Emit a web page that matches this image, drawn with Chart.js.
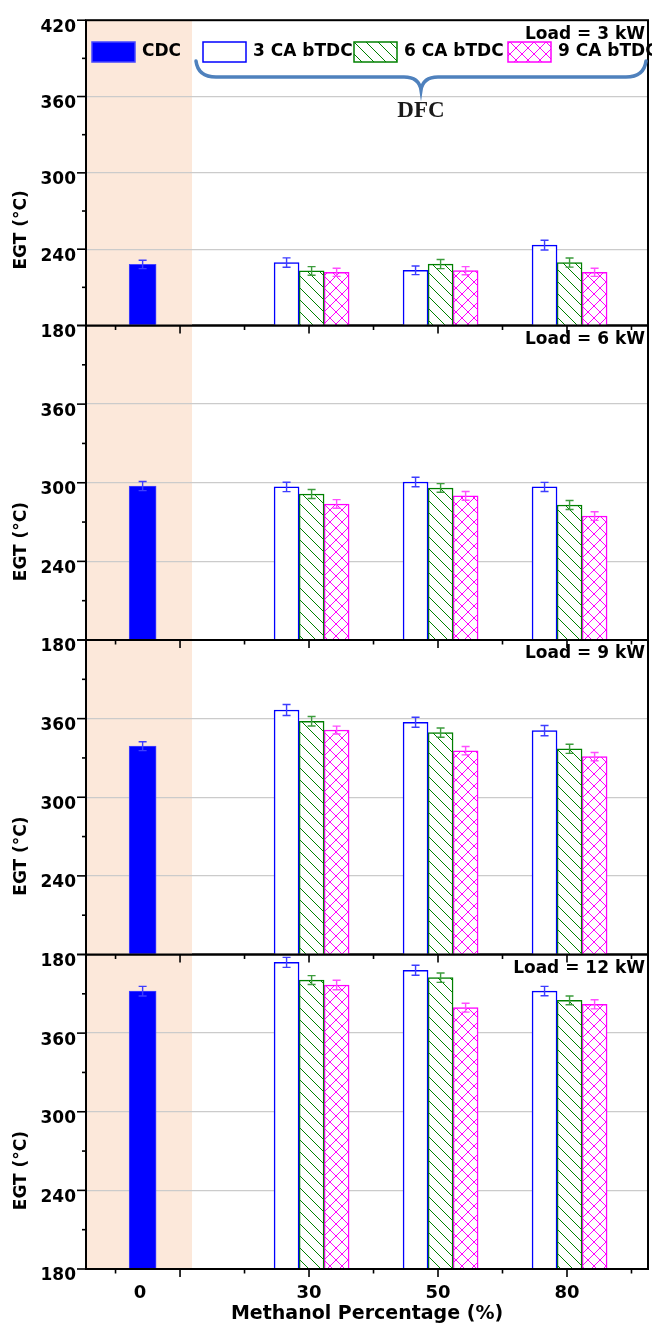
<!DOCTYPE html>
<html><head><meta charset="utf-8">
<script src="https://cdn.jsdelivr.net/npm/chart.js@4.4.0/dist/chart.umd.min.js"></script>
<style>
html,body{margin:0;padding:0;background:#fff;}
#wrap{position:relative;width:652px;height:1326px;overflow:hidden;}
#wrap canvas{position:absolute;left:0;top:0;}
</style></head><body><div id="wrap"></div>
<script>
// ---------------- data ----------------
const categories = ['0', '30', '50', '80'];           // methanol percentage
const seriesNames = ['CDC', '3 CA bTDC', '6 CA bTDC', '9 CA bTDC'];
const loadLabels = ['Load = 3 kW', 'Load = 6 kW', 'Load = 9 kW', 'Load = 12 kW'];
const yTickValues = [180, 240, 300, 360, 420];

// CDC (0 % methanol) for loads 3, 6, 9, 12 kW
const cdcEGT = [228.0, 297.5, 339.0, 392.0];
const cdcErr = [3.3, 3.5, 3.4, 3.7];

// DFC, values at 30 / 50 / 80 % methanol
const ca3_3kW = [229.5, 223.4, 243.2];
const ca6_3kW = [222.9, 228.3, 229.5];
const ca9_3kW = [221.8, 223.1, 221.8];
const ca3_6kW = [296.8, 300.6, 296.8];
const ca6_6kW = [291.4, 296.0, 283.0];
const ca9_6kW = [283.8, 290.0, 274.6];
const ca3_9kW = [366.6, 357.2, 350.8];
const ca6_9kW = [358.0, 349.3, 337.0];
const ca9_9kW = [351.3, 335.5, 331.0];
const ca3_12kW = [414.0, 408.0, 392.1];
const ca6_12kW = [400.5, 402.3, 385.0];
const ca9_12kW = [396.7, 379.4, 382.0];

const err3_3kW = [3.7, 3.4, 3.8];
const err6_3kW = [3.4, 3.6, 3.6];
const err9_3kW = [3.2, 3.2, 3.2];
const err3_6kW = [3.6, 3.6, 3.5];
const err6_6kW = [3.4, 3.3, 3.4];
const err9_6kW = [3.3, 3.3, 3.3];
const err3_9kW = [4.2, 3.8, 3.9];
const err6_9kW = [3.6, 3.5, 3.5];
const err9_9kW = [3.0, 3.2, 3.2];
const err3_12kW = [3.8, 3.8, 3.6];
const err6_12kW = [3.4, 3.6, 3.3];
const err9_12kW = [3.6, 3.4, 3.5];

// ---------------- layout / style ----------------
const W = 652, H = 1326;
const plotLeft = 86, plotRight = 648;
const panelTops = [11, 325.5, 640, 954.5];
const panelBottoms = [325.5, 640, 954.5, 1269];
const xMin = -0.729, xMax = 3.628;            // x units: one major tick step
const catPos = [-0.29, 1.02, 2.02, 3.02];     // group centre of each category
const seriesOffset = [-0.194, 0, 0.194];      // offset of the 3 DFC bars in a group
const xLabelPos = [-0.31, 1, 2, 3];
const shadeEnd = 0.093;
const FONT = '"DejaVu Sans", sans-serif';
Chart.defaults.font.family = FONT;
Chart.defaults.color = '#000';

const BLUE = '#0000ff', GREEN = '#008000', MAG = '#ff00ff';
const errColors = ['#3d3dff', '#3c9c3c', '#ff4cff'];

function makePattern(ctx, color, cross) {
  const t = document.createElement('canvas');
  t.width = 12; t.height = 12;
  const g = t.getContext('2d');
  g.fillStyle = '#fff'; g.fillRect(0, 0, 12, 12);
  g.strokeStyle = color; g.lineWidth = 1;
  for (const k of [-12, 0, 12]) {
    g.beginPath(); g.moveTo(0, k); g.lineTo(12, 12 + k); g.stroke();
    if (cross) { g.beginPath(); g.moveTo(0, 12 + k); g.lineTo(12, k); g.stroke(); }
  }
  return ctx.createPattern(t, 'repeat');
}

const panelSeries = [
  [[ca3_3kW, err3_3kW], [ca6_3kW, err6_3kW], [ca9_3kW, err9_3kW]],
  [[ca3_6kW, err3_6kW], [ca6_6kW, err6_6kW], [ca9_6kW, err9_6kW]],
  [[ca3_9kW, err3_9kW], [ca6_9kW, err6_9kW], [ca9_9kW, err9_9kW]],
  [[ca3_12kW, err3_12kW], [ca6_12kW, err6_12kW], [ca9_12kW, err9_12kW]]
];

const wrap = document.getElementById('wrap');

for (let p = 0; p < 4; p++) {
  const cv = document.createElement('canvas');
  cv.width = W; cv.height = H;
  cv.style.zIndex = String(10 - p);
  wrap.appendChild(cv);
  const ctx = cv.getContext('2d');
  const greenHatch = makePattern(ctx, GREEN, false);
  const magHatch = makePattern(ctx, MAG, true);
  const fills = ['#ffffff', greenHatch, magHatch];
  const borders = [BLUE, GREEN, MAG];

  const datasets = [{
    label: seriesNames[0],
    data: [{x: catPos[0], y: cdcEGT[p]}],
    errs: [cdcErr[p]],
    errColor: errColors[0],
    backgroundColor: BLUE, borderColor: '#4545ff', borderWidth: 1,
    barThickness: 27
  }];
  panelSeries[p].forEach((s, k) => {
    datasets.push({
      label: seriesNames[k + 1],
      data: s[0].map((v, j) => ({x: catPos[j + 1] + seriesOffset[k], y: v})),
      errs: s[1],
      errColor: errColors[k],
      backgroundColor: fills[k], borderColor: borders[k], borderWidth: 1.5,
      barThickness: 25
    });
  });

  const isLast = p === 3;
  const xAxisH = isLast ? (H - panelBottoms[3]) : 10;

  const decor = {
    id: 'decor' + p,
    beforeDraw(chart) {
      const {ctx, chartArea: a, scales: {x}} = chart;
      ctx.save();
      ctx.fillStyle = '#fce8da';
      ctx.fillRect(a.left, a.top, x.getPixelForValue(shadeEnd) - a.left, a.bottom - a.top);
      ctx.restore();
    },
    afterDatasetsDraw(chart) {
      const {ctx, chartArea: a, scales: {x, y}} = chart;
      ctx.save();
      // error bars
      chart.data.datasets.forEach(ds => {
        ctx.strokeStyle = ds.errColor; ctx.lineWidth = 1.4;
        ds.data.forEach((pt, j) => {
          const px = x.getPixelForValue(pt.x);
          const y1 = y.getPixelForValue(pt.y + ds.errs[j]);
          const y2 = y.getPixelForValue(pt.y - ds.errs[j]);
          ctx.beginPath();
          ctx.moveTo(px, y1); ctx.lineTo(px, y2);
          ctx.moveTo(px - 4, y1); ctx.lineTo(px + 4, y1);
          ctx.moveTo(px - 4, y2); ctx.lineTo(px + 4, y2);
          ctx.stroke();
        });
      });
      // frame
      ctx.strokeStyle = '#000'; ctx.lineWidth = 2;
      ctx.strokeRect(a.left, a.top, a.right - a.left, a.bottom - a.top);
      // x tick marks (outward)
      ctx.lineWidth = 1.6;
      for (let v = -0.5; v <= 3.5; v += 0.5) {
        const px = x.getPixelForValue(v);
        const len = Number.isInteger(v) ? 8 : 4.5;
        ctx.beginPath(); ctx.moveTo(px, a.bottom); ctx.lineTo(px, a.bottom + len); ctx.stroke();
      }
      // y tick marks (outward)
      for (let v = 180; v <= 420; v += 30) {
        const py = y.getPixelForValue(v);
        const len = (v % 60 === 0) ? 9 : 4;
        ctx.beginPath(); ctx.moveTo(a.left, py); ctx.lineTo(a.left - len, py); ctx.stroke();
      }
      // load annotation
      ctx.fillStyle = '#000';
      ctx.font = 'bold 17px ' + FONT;
      ctx.textAlign = 'right'; ctx.textBaseline = 'middle';
      ctx.fillText(loadLabels[p], a.right - 3, a.top + 14);
      // y title
      ctx.save();
      ctx.translate(22, a.top + 0.687 * (a.bottom - a.top));
      ctx.rotate(-Math.PI / 2);
      ctx.textAlign = 'center';
      ctx.fillText('EGT (°C)', 0, 0);
      ctx.restore();

      if (p === 0) {
        // legend
        const boxX = [92, 203, 354, 508];
        chart.data.datasets.forEach((ds, k) => {
          ctx.fillStyle = ds.backgroundColor;
          ctx.fillRect(boxX[k], 42, 43, 20);
          ctx.strokeStyle = ds.borderColor;
          ctx.lineWidth = 1.5;
          ctx.strokeRect(boxX[k], 42, 43, 20);
          ctx.fillStyle = '#000';
          ctx.textAlign = 'left';
          ctx.fillText(ds.label, boxX[k] + 50, 52);
        });
        // brace
        ctx.strokeStyle = '#4f81bd'; ctx.lineWidth = 3.5; ctx.lineCap = 'round';
        ctx.beginPath();
        ctx.moveTo(196, 61);
        ctx.quadraticCurveTo(198, 77, 216, 77);
        ctx.lineTo(404, 77);
        ctx.quadraticCurveTo(419, 77, 421, 90);
        ctx.quadraticCurveTo(423, 77, 438, 77);
        ctx.lineTo(626, 77);
        ctx.quadraticCurveTo(644, 77, 646, 61);
        ctx.stroke();
        ctx.fillStyle = '#1a1a1a';
        ctx.font = 'bold 23px "Liberation Serif", serif';
        ctx.textAlign = 'center';
        ctx.fillText('DFC', 421, 111);
      }
      ctx.restore();
    }
  };

  new Chart(cv, {
    type: 'bar',
    data: {datasets},
    options: {
      responsive: false, animation: false, devicePixelRatio: 1,
      layout: {padding: {left: 0, right: W - plotRight, top: panelTops[p],
                         bottom: H - panelBottoms[p] - xAxisH}},
      plugins: {legend: {display: false}, tooltip: {enabled: false}},
      datasets: {bar: {grouped: false, base: 180, borderSkipped: 'start'}},
      scales: {
        x: {
          type: 'linear', min: xMin, max: xMax, offset: false,
          grid: {display: false, drawTicks: false, offset: false},
          border: {display: false},
          afterBuildTicks(s) { s.ticks = xLabelPos.map(v => ({value: v})); },
          afterFit(s) { s.height = xAxisH; },
          ticks: {display: isLast, autoSkip: false, maxRotation: 0, padding: 14,
                  font: {size: 18, weight: 'bold'},
                  callback: (v, i) => categories[i]},
          title: {display: isLast, text: 'Methanol Percentage (%)',
                  font: {size: 19, weight: 'bold'}, padding: {top: 0, bottom: 1}}
        },
        y: {
          min: yTickValues[0], max: yTickValues[yTickValues.length - 1],
          afterBuildTicks(s) { s.ticks = yTickValues.map(v => ({value: v})); },
          afterFit(s) { s.width = plotLeft; },
          grid: {drawTicks: false,
                 color: c => (c.tick && c.tick.value > 180 && c.tick.value < 420) ? '#cbcbcb' : 'rgba(0,0,0,0)',
                 lineWidth: 1.3},
          border: {display: false},
          ticks: {padding: 10, labelOffset: 7, font: {size: 17, weight: 'bold'},
                  callback: (v) => (v === 420 && p > 0) ? '' : String(v)}
        }
      }
    },
    plugins: [decor]
  });
}
</script></body></html>
